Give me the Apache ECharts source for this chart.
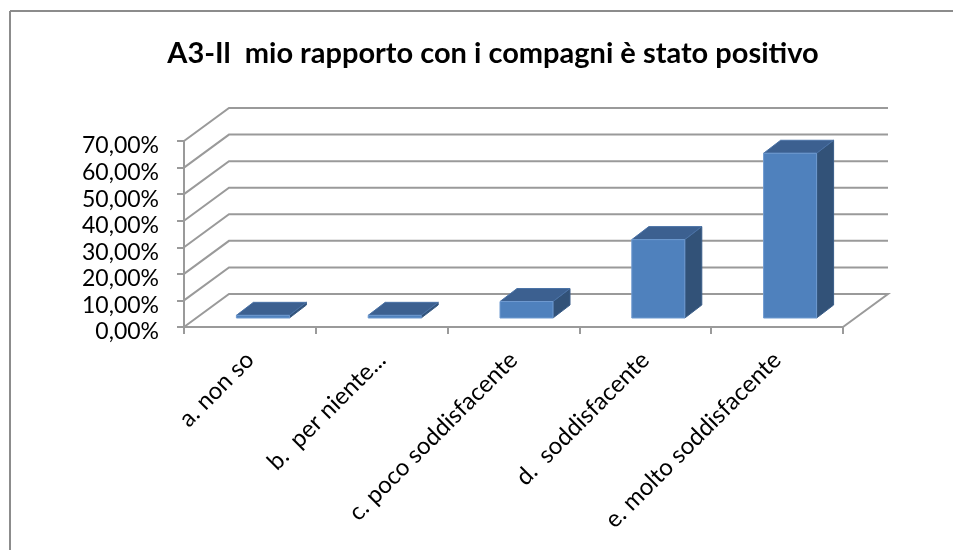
<!DOCTYPE html>
<html>
<head>
  <meta charset="utf-8" />
  <title>A3</title>
  <style>
    html, body { margin: 0; padding: 0; background: #fff; }
    #mapBox { width: 953px; height: 550px; }
  </style>
</head>
<body>
  <div id="mapBox"></div>
  <script src="https://cdn.jsdelivr.net/npm/echarts@6/dist/echarts.min.js"></script>
  <script>
    var titleText = 'A3-Il  mio rapporto con i compagni è stato positivo';
    var categories = ['a. non so', 'b.  per niente...', 'c. poco soddisfacente', 'd.  soddisfacente', 'e. molto soddisfacente'];
    var values = [1, 1, 6.2, 29.5, 62];
    var gridValues = [0, 10, 20, 30, 40, 50, 60, 70];

    var fontName = 'Lato';
    var lineColor = '#9a9a9a';
    // depth of the box, and of the bars inside it
    var wallDx = 45, wallDy = -33;
    var barDx = 17, barDy = -13, barShiftX = 13, barShiftY = -9, barW = 53;

    function renderWall(params, api) {
      var c = params.coordSys;
      var y = api.coord([0, api.value(0)])[1];
      var left = c.x, right = c.x + c.width;
      var style = { stroke: lineColor, lineWidth: 2, fill: null };
      var pts = [[left, y], [left + wallDx, y + wallDy], [right + wallDx, y + wallDy]];
      // floor also closes on the right side
      if (api.value(0) === 0) {
        pts.push([right, y]);
      }
      return { type: 'polyline', shape: { points: pts }, style: style, silent: true };
    }

    function renderBar(params, api) {
      var top = api.coord([api.value(0), api.value(1)]);
      var base = api.coord([api.value(0), 0]);
      var x0 = top[0] - barW / 2 + barShiftX;
      var x1 = x0 + barW;
      var yT = top[1] + barShiftY;
      var yB = base[1] + barShiftY;
      return {
        type: 'group',
        children: [
          {
            type: 'polygon',
            shape: { points: [[x1, yT], [x1 + barDx, yT + barDy], [x1 + barDx, yB + barDy], [x1, yB]] },
            style: { fill: '#325278', stroke: '#3a5d88', lineWidth: 1 }
          },
          {
            type: 'polygon',
            shape: { points: [[x0, yT], [x0 + barDx, yT + barDy], [x1 + barDx, yT + barDy], [x1, yT]] },
            style: { fill: '#3c6090', stroke: '#4a72a6', lineWidth: 1 }
          },
          {
            type: 'rect',
            shape: { x: x0, y: yT, width: barW, height: yB - yT },
            style: { fill: '#4f81bd', stroke: '#6f9ad0', lineWidth: 1 }
          }
        ]
      };
    }

    var myChart = echarts.init(document.getElementById('mapBox'));
    myChart.setOption({
      animation: false,
      backgroundColor: '#fff',
      title: {
        text: titleText,
        left: 488,
        top: 34,
        textAlign: 'center',
        textStyle: { fontFamily: fontName, fontWeight: 'bold', fontSize: 29, color: '#000' }
      },
      graphic: [
        { type: 'line', shape: { x1: 10, y1: 11, x2: 953, y2: 11 }, style: { stroke: '#8c8c8c', lineWidth: 2 } },
        { type: 'line', shape: { x1: 10, y1: 11, x2: 10, y2: 550 }, style: { stroke: '#8c8c8c', lineWidth: 2 } }
      ],
      grid: { left: 184, top: 141, width: 659, height: 186 },
      xAxis: {
        type: 'category',
        data: categories,
        axisLine: { lineStyle: { color: lineColor, width: 2 } },
        axisTick: { show: true, length: 7, alignWithLabel: false, lineStyle: { color: lineColor, width: 2 } },
        axisLabel: { interval: 0, rotate: 45, margin: 29, fontFamily: fontName, fontSize: 24, color: '#000' }
      },
      yAxis: {
        type: 'value',
        min: 0,
        max: 70,
        interval: 10,
        splitLine: { show: false },
        axisLine: { show: true, lineStyle: { color: lineColor, width: 2 } },
        axisTick: { show: true, length: 7, lineStyle: { color: lineColor, width: 2 } },
        axisLabel: {
          margin: 25,
          verticalAlign: 'top',
          lineHeight: 10,
          fontFamily: fontName,
          fontSize: 23,
          color: '#000',
          formatter: function (v) { return v + ',00%'; }
        }
      },
      series: [
        { type: 'custom', renderItem: renderWall, data: gridValues.map(function (v) { return [v]; }), encode: { y: 0 }, silent: true, clip: false, z: 1 },
        { type: 'custom', renderItem: renderBar, data: values.map(function (v, i) { return [i, v]; }), encode: { x: 0, y: 1 }, clip: false, z: 2 }
      ]
    });
  </script>
</body>
</html>
